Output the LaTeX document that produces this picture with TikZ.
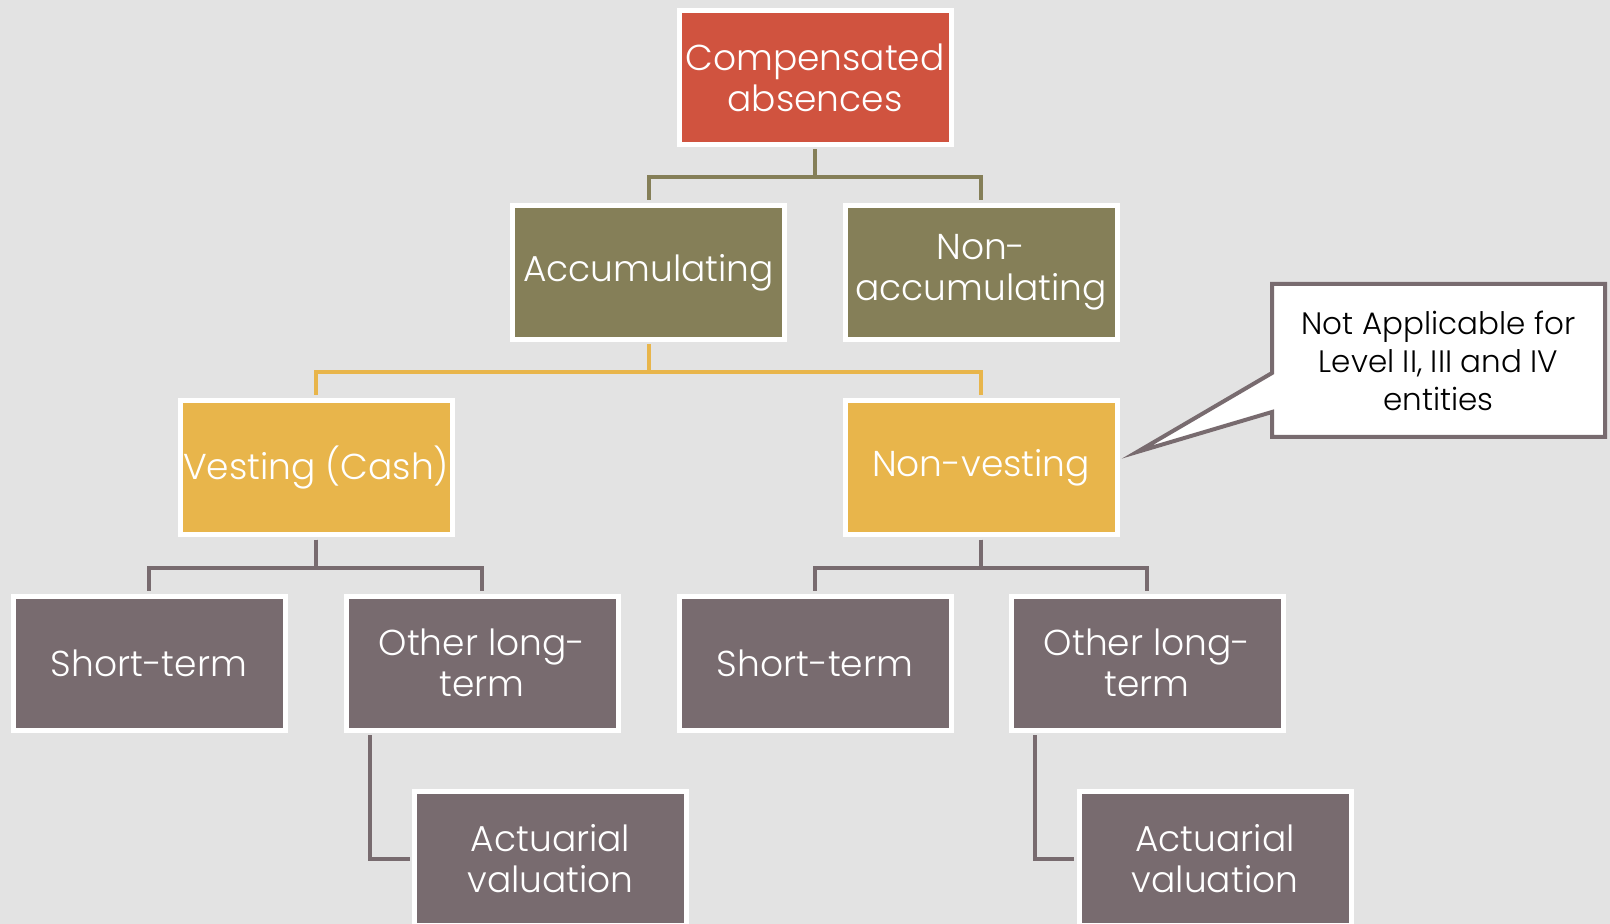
\documentclass[tikz,border=0pt]{standalone}
\usepackage{fontspec}
\IfFontExistsTF{Poppins Light}{\setmainfont{Poppins Light}}{\setmainfont{Poppins}}
\usepackage{xcolor}
\usetikzlibrary{positioning,calc}

\definecolor{bgGray}{HTML}{E3E3E3}
\definecolor{rootRed}{HTML}{D0533F}
\definecolor{oliveGreen}{HTML}{857F58}
\definecolor{mustard}{HTML}{E8B54B}
\definecolor{mauve}{HTML}{786B6F}

\begin{document}
\begin{tikzpicture}[x=0.5pt, y=-0.5pt,
    box/.style={rectangle, draw=white, line width=2.5pt, minimum width=136pt, minimum height=67pt, inner sep=1pt, text=white, font=\fontsize{18}{20.5}\selectfont, align=center},
    rootbox/.style={box, fill=rootRed},
    levelone/.style={box, fill=oliveGreen},
    leveltwo/.style={box, fill=mustard},
    leafbox/.style={box, fill=mauve},
    link/.style={line width=2pt, shorten <=1.25pt, shorten >=1.25pt},
    callout/.style={draw=mauve, fill=white, line width=2pt, line join=miter}
]

% Background
\useasboundingbox (0,0) rectangle (1610,924);
\fill[bgGray] (0,0) rectangle (1610,924);

% Root
\node[rootbox] (comp) at (815, 77.5) {Compensated\\absences};

% Level 1
\node[levelone] (accum) at (648.5, 272.5) {Accumulating};
\node[levelone] (nonaccum) at (981, 272.5) {Non-\\accumulating};

% Level 2
\node[leveltwo] (vesting) at (316, 467.5) {Vesting (Cash)};
\node[leveltwo] (nonvesting) at (981, 467.5) {Non-vesting};

% Level 3
\node[leafbox] (short1) at (149, 663) {Short-term};
\node[leafbox] (longterm1) at (482, 663) {Other long-\\term};
\node[leafbox] (short2) at (815, 663) {Short-term};
\node[leafbox] (longterm2) at (1147, 663) {Other long-\\term};

% Level 4
\node[leafbox] (actuarial1) at (550.5, 858.5) {Actuarial\\valuation};
\node[leafbox] (actuarial2) at (1215, 858.5) {Actuarial\\valuation};

% Connectors
\draw[link, oliveGreen] (comp.south) -- ++(0,30.5) -| (accum.north);
\draw[link, oliveGreen] (comp.south) -- ++(0,30.5) -| (nonaccum.north);
\draw[link, mustard] (accum.south) -- ++(0,30.5) -| (vesting.north);
\draw[link, mustard] (accum.south) -- ++(0,30.5) -| (nonvesting.north);
\draw[link, mauve] (vesting.south) -- ++(0,30.5) -| (short1.north);
\draw[link, mauve] (vesting.south) -- ++(0,30.5) -| (longterm1.north);
\draw[link, mauve] (nonvesting.south) -- ++(0,30.5) -| (short2.north);
\draw[link, mauve] (nonvesting.south) -- ++(0,30.5) -| (longterm2.north);
\draw[link, mauve] (longterm1.south west) ++(26,0) |- (actuarial1.west);
\draw[link, mauve] (longterm2.south west) ++(26,0) |- (actuarial2.west);

% Callout
\draw[callout] (1272,284) -- (1605,284) -- (1605,437) -- (1272,437) -- (1272,412)
    -- (1137,452) -- (1272,373) -- cycle;
\node[font=\fontsize{15.5}{19}\selectfont, align=center] (note) at (1438.5, 361)
    {Not Applicable for\\Level II, III and IV\\entities};

\end{tikzpicture}
\end{document}
